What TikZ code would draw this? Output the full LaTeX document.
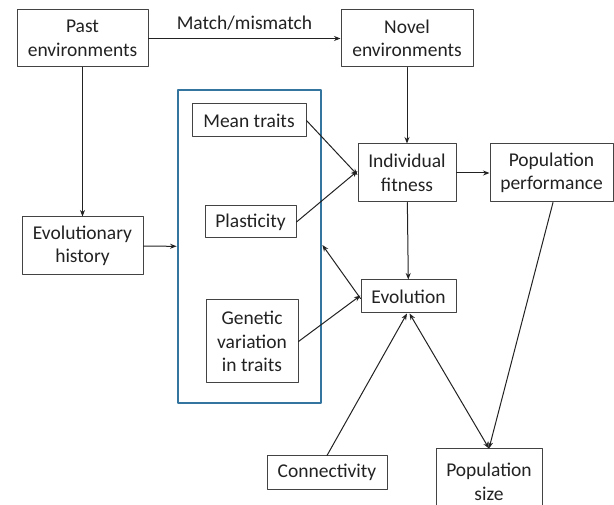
\documentclass[tikz,border=0pt]{standalone}
\usepackage{fontspec}
\setmainfont{Carlito}
\usetikzlibrary{arrows.meta}
\definecolor{ink}{RGB}{34,34,34}
\definecolor{framebl}{RGB}{52,117,160}

\begin{document}
\begin{tikzpicture}[x=1pt, y=-1pt, >={Stealth[length=6.5pt,width=5pt]}, font=\fontsize{19.5}{23.5}\selectfont, line join=round, line cap=round,
	box/.style={draw=ink!85, line width=1pt, align=center, inner sep=0pt, text=ink},
	link/.style={->, draw=ink, line width=1pt}]
	\def\W{614} \def\H{505} % picture size
	\useasboundingbox (0,0) rectangle (\W,\H);
	\clip (0,0) rectangle (\W,\H);
	% environments and history
	\node[box, minimum width=131, minimum height=57] (past) at (82.5,38.5) {Past\\environments};
	\node[box, minimum width=132, minimum height=57] (novel) at (407,38.5) {Novel\\environments};
	\node[box, minimum width=121, minimum height=58] (hist) at (82.5,246) {Evolutionary\\history};
	% trait frame
	\node[draw=framebl, line width=2.8pt, minimum width=143, minimum height=313] (traits) at (249.5,246.5) {};
	\node[box, minimum width=114, minimum height=33] (mean) at (249,120.5) {Mean traits};
	\node[box, minimum width=91, minimum height=32] (plast) at (250.5,222) {Plasticity};
	\node[box, minimum width=92, minimum height=83] (gen) at (252,341.5) {Genetic\\variation\\in traits};
	% fitness and population
	\node[box, minimum width=98, minimum height=58] (fit) at (407,173) {Individual\\fitness};
	\node[box, minimum width=123, minimum height=58] (perf) at (551.5,173) {Population\\performance};
	\node[box, minimum width=95, minimum height=33] (evol) at (408.5,296.5) {Evolution};
	\node[box, minimum width=120, minimum height=33] (conn) at (327,472.5) {Connectivity};
	\node[box, minimum width=106, minimum height=66] (size) at (489,482) {Population\\size};
	% connectors
	\draw[link] (past) -- node[midway, above=4pt, text=ink]{Match/mismatch} (novel);
	\draw[link, line width=1.8pt] (past) -- (hist);
	\draw[link] (hist) -- (traits);
	\draw[link] (novel) -- (fit);
	\draw[link] (mean.east) -- ([yshift=-2]fit.west);
	\draw[link] (plast.east) -- ([yshift=2]fit.west);
	\draw[link] (fit) -- (perf);
	\draw[link] (fit) -- (evol);
	\draw[link] ([yshift=-2]evol.west) -- ([yshift=1.5]traits.east);
	\draw[link] (gen.east) -- ([yshift=1]evol.west);
	\draw[link] (conn.north) -- ([xshift=-1.5]evol.south);
	\draw[link, <->] ([xshift=1]evol.south) -- (size.north);
	\draw[link] ([xshift=1.5]perf.south) -- (size.north);
\end{tikzpicture}
\end{document}
